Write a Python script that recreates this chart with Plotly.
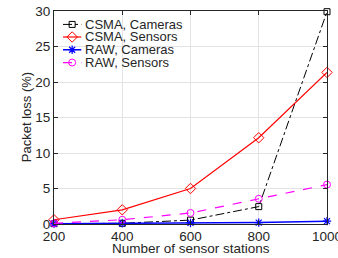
import plotly.graph_objects as go

stations = [200, 400, 600, 800, 1000]
csma_cameras = [0.05, 0.1, 0.55, 2.45, 29.9]
csma_sensors = [0.6, 2.0, 5.0, 12.15, 21.35]
raw_cameras = [0.05, 0.1, 0.15, 0.2, 0.4]
raw_sensors = [0.1, 0.6, 1.55, 3.55, 5.55]

series_names = ["CSMA, Cameras", "CSMA, Sensors", "RAW, Cameras", "RAW, Sensors"]
x_ticks = [200, 400, 600, 800, 1000]
y_ticks = [0, 5, 10, 15, 20, 25, 30]
x_title = "Number of sensor stations"
y_title = "Packet loss (%)"

styles = [
    dict(line=dict(color="black", width=1, dash="dashdot"),
         marker=dict(symbol="square-open", size=6, color="black", line=dict(width=1))),
    dict(line=dict(color="red", width=1.2),
         marker=dict(symbol="diamond-open", size=8, color="red", line=dict(width=1))),
    dict(line=dict(color="blue", width=1.5),
         marker=dict(symbol="asterisk-open", size=7, color="blue", line=dict(width=1.2, color="blue"))),
    dict(line=dict(color="magenta", width=1.2, dash="dash"),
         marker=dict(symbol="circle-open", size=7, color="magenta", line=dict(width=1))),
]
values = [csma_cameras, csma_sensors, raw_cameras, raw_sensors]

FONT = "Liberation Sans, Arial"
TXT = "#262626"

fig = go.Figure()
for name, vals, st in zip(series_names, values, styles):
    fig.add_trace(go.Scatter(x=stations, y=vals, name=name, mode="lines+markers",
                             showlegend=False, cliponaxis=False, **st))

# manual legend (compact rows) on a hidden overlay axis in [0,1] units
leg_rows = [0.937, 0.878, 0.818, 0.758]
leg_x0, leg_x1, leg_text = 0.033, 0.10, 0.108
for name, yy, st in zip(series_names, leg_rows, styles):
    fig.add_trace(go.Scatter(x=[leg_x0, leg_x1], y=[yy, yy], mode="lines", line=st["line"],
                             xaxis="x2", yaxis="y2", showlegend=False, hoverinfo="skip"))
    fig.add_trace(go.Scatter(x=[(leg_x0 + leg_x1) / 2], y=[yy], mode="markers", marker=st["marker"],
                             xaxis="x2", yaxis="y2", showlegend=False, hoverinfo="skip"))
    fig.add_annotation(x=leg_text, y=yy, xref="x2", yref="y2", text=name, showarrow=False,
                       xanchor="left", yanchor="middle",
                       font=dict(family=FONT, size=13, color=TXT))

# axis titles as annotations for exact placement
fig.add_annotation(x=0.5, y=-0.113, xref="paper", yref="paper", text=x_title, showarrow=False,
                   xanchor="center", yanchor="middle", font=dict(family=FONT, size=13.5, color=TXT))
fig.add_annotation(x=-0.1, y=0.5, xref="paper", yref="paper", text=y_title, showarrow=False,
                   textangle=-90, xanchor="center", yanchor="middle",
                   font=dict(family=FONT, size=13, color=TXT))

axis_common = dict(showline=True, linecolor=TXT, linewidth=1, mirror="ticks",
                   ticks="inside", ticklen=4, tickcolor=TXT, automargin=False,
                   ticklabeloverflow="allow",
                   showgrid=True, gridcolor="#e3e3e3", gridwidth=1, zeroline=False,
                   tickfont=dict(family=FONT, size=13.5, color=TXT))

fig.update_layout(
    template="none",
    width=338, height=258,
    margin=dict(l=54, r=11, t=11, b=34, autoexpand=False),
    paper_bgcolor="white", plot_bgcolor="white",
    font=dict(family=FONT, size=13, color=TXT),
    xaxis=dict(range=[200, 1000], tickvals=x_ticks, **axis_common),
    yaxis=dict(range=[0, 30], tickvals=y_ticks, **axis_common),
    xaxis2=dict(range=[0, 1], overlaying="x", visible=False),
    yaxis2=dict(range=[0, 1], overlaying="y", visible=False),
    showlegend=False,
)

fig.write_html("out.html", config={"displayModeBar": False},
               post_script="document.body.style.margin='0';document.body.style.overflow='hidden';")
